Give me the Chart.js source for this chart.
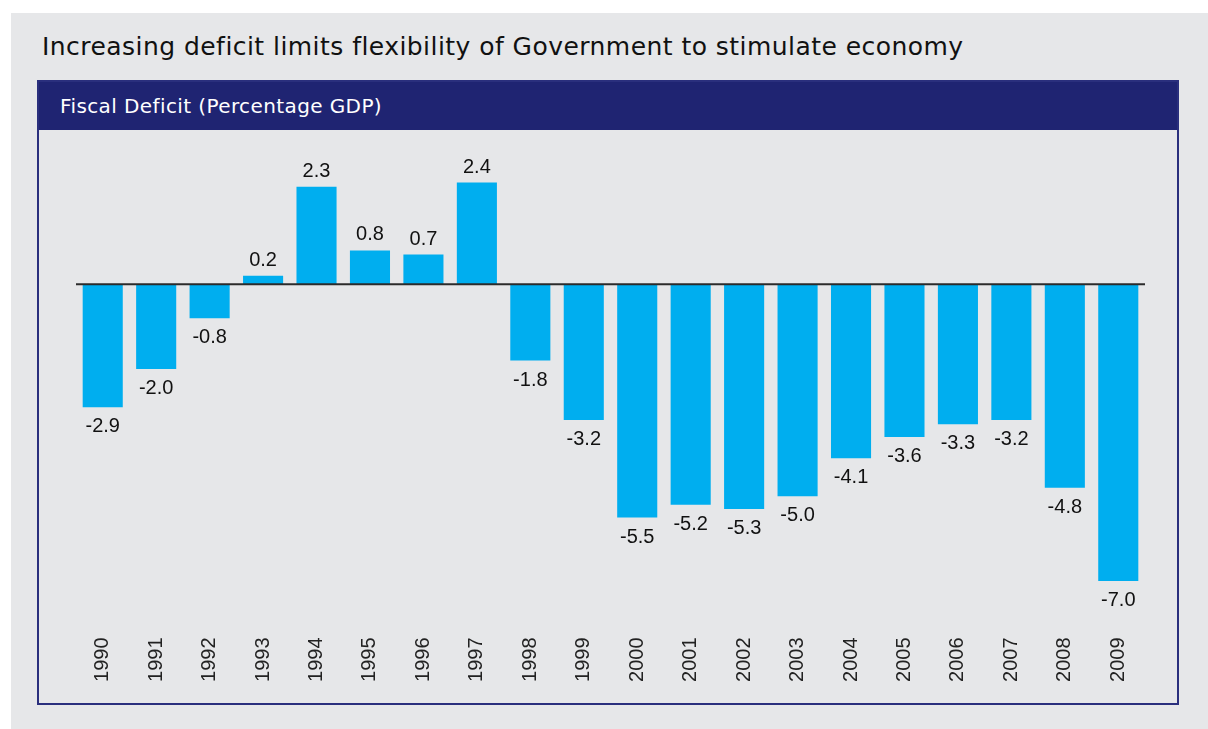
<!DOCTYPE html>
<html>
<head>
<meta charset="utf-8">
<title>Fiscal Deficit</title>
<script src="https://cdn.jsdelivr.net/npm/chart.js@4.4.1/dist/chart.umd.min.js"></script>
<style>
  html, body { margin: 0; padding: 0; background: #ffffff; }
  body { width: 1208px; height: 729px; position: relative; overflow: hidden; }
  #backdrop { position: absolute; left: 11px; top: 13px; right: 0; bottom: 0; background: #e6e7e9; }
  #headline {
    position: absolute; left: 42px; top: 34px; letter-spacing: 0.45px;
    font: 25px/25px "DejaVu Sans", sans-serif; color: #111; white-space: nowrap;
  }
  #panel {
    position: absolute; left: 37px; top: 80px; width: 1138px; height: 621px;
    border: 2.5px solid #2a2f7d; background: #e6e7e9;
  }
  #panelHead {
    position: absolute; left: 0; top: 0; right: 0; height: 48px; background: #1f2472;
  }
  #panelTitle {
    position: absolute; left: 21px; top: 14px; letter-spacing: 0.4px;
    font: 20px/20px "DejaVu Sans", sans-serif; color: #ffffff; white-space: nowrap;
  }
  #chartWrap { position: absolute; left: 0; top: 0; width: 1208px; height: 729px; }
</style>
</head>
<body>
<div id="backdrop"></div>
<div id="headline">Increasing deficit limits flexibility of Government to stimulate economy</div>
<div id="panel">
  <div id="panelHead"><div id="panelTitle">Fiscal Deficit (Percentage GDP)</div></div>
</div>
<div id="chartWrap"><canvas id="deficitChart" width="1208" height="729"></canvas></div>

<script>
// jaren en begrotingssaldo (% bbp)
const years = ['1990', '1991', '1992', '1993', '1994', '1995', '1996', '1997', '1998', '1999',
               '2000', '2001', '2002', '2003', '2004', '2005', '2006', '2007', '2008', '2009'];
const deficit = [-2.9, -2.0, -0.8, 0.2, 2.3, 0.8, 0.7, 2.4, -1.8, -3.2,
                 -5.5, -5.2, -5.3, -5.0, -4.1, -3.6, -3.3, -3.2, -4.8, -7.0];
const yMin = -8;
const yMax = 3;

// waarde boven/onder elke balk + nullijn erover
const valueLabels = {
  id: 'valueLabels',
  afterDatasetsDraw(chart) {
    const ctx = chart.ctx;
    const area = chart.chartArea;
    const y0 = chart.scales.y.getPixelForValue(0);

    ctx.save();
    ctx.strokeStyle = '#2b2b2b';
    ctx.lineWidth = 2;
    ctx.beginPath();
    ctx.moveTo(area.left, y0);
    ctx.lineTo(area.right, y0);
    ctx.stroke();

    ctx.font = '20px "Liberation Sans", Arial, sans-serif';
    ctx.fillStyle = '#111111';
    ctx.textAlign = 'center';
    ctx.textBaseline = 'alphabetic';
    chart.getDatasetMeta(0).data.forEach((bar, i) => {
      const v = deficit[i];
      const txt = v.toFixed(1);
      if (v >= 0) {
        ctx.fillText(txt, bar.x, bar.y - 10);
      } else {
        ctx.fillText(txt, bar.x, bar.y + 25);
      }
    });
    ctx.restore();
  }
};

const ctx = document.getElementById('deficitChart');
new Chart(ctx.getContext('2d'), {
  type: 'bar',
  data: {
    labels: years,
    datasets: [{
      data: deficit,
      backgroundColor: '#00aeef',
      borderWidth: 0,
      barPercentage: 0.75,
      categoryPercentage: 1.0
    }]
  },
  options: {
    responsive: false,
    animation: false,
    events: [],
    layout: {
      padding: { left: 76, right: 63, top: 157.1, bottom: 25.5 }
    },
    plugins: {
      legend: { display: false },
      tooltip: { enabled: false }
    },
    scales: {
      x: {
        grid: { display: false, drawTicks: false },
        border: { display: false },
        ticks: {
          autoSkip: false,
          minRotation: 90,
          maxRotation: 90,
          padding: 14,
          color: '#222222',
          font: { family: '"Liberation Sans", Arial, sans-serif', size: 20 }
        },
        afterFit(scale) { scale.height = 80; }
      },
      y: {
        display: false,
        min: yMin,
        max: yMax
      }
    }
  },
  plugins: [valueLabels]
});
</script>
</body>
</html>
